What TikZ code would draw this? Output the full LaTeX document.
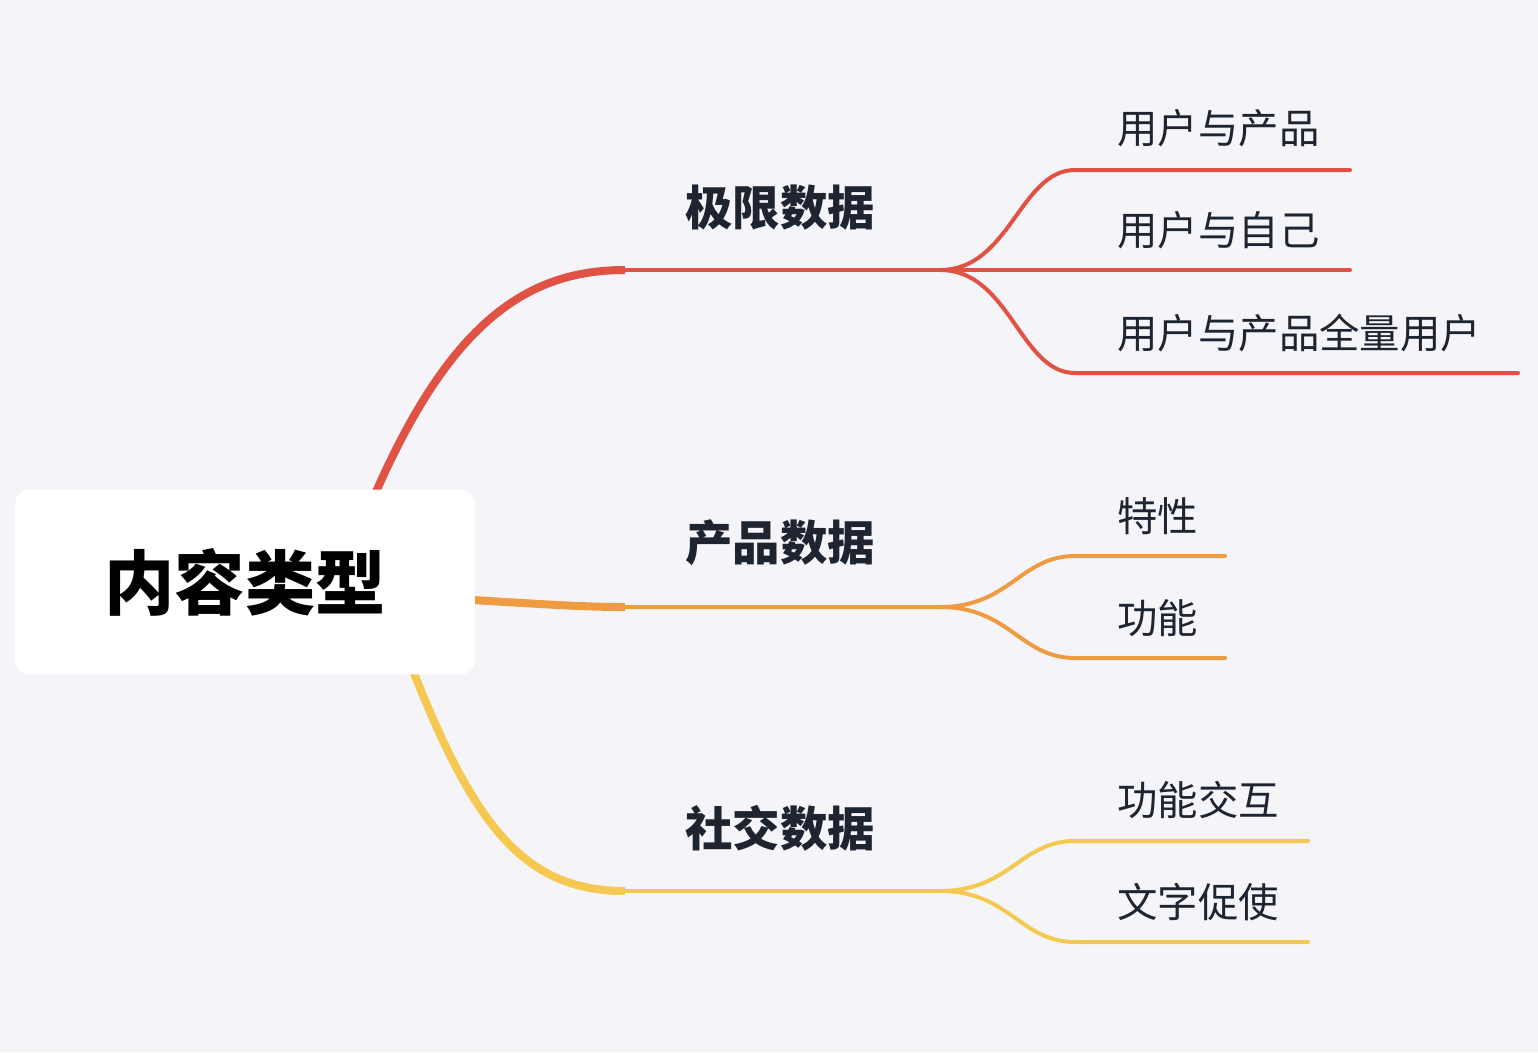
\documentclass[tikz,border=0pt]{standalone}
\usepackage{fontspec}
\newfontfamily\cjk{Noto Sans CJK SC}
\usetikzlibrary{positioning}
\definecolor{bgcol}{HTML}{F5F5F9}
\definecolor{redb}{HTML}{E05344}
\definecolor{orab}{HTML}{EE9B42}
\definecolor{yelb}{HTML}{F5C852}
\definecolor{txt}{HTML}{1E2430}

\begin{document}
\begin{tikzpicture}[x=0.02cm, y=-0.02cm,
    mainlabel/.style={font=\cjk\bfseries\fontsize{27}{30}\selectfont, text=txt},
    sublabel/.style={font=\cjk\fontsize{23}{26}\selectfont, text=txt, anchor=west, inner sep=0pt},
    branch/.style={line width=0.08cm, line cap=round}]
    % Background
    \fill[bgcol] (0,0) rectangle (1538,1052);

    % Junctions
    \coordinate (rs) at (360,530);  \coordinate (rm) at (625,270); \coordinate (rj) at (940,270);
    \coordinate (os) at (440,598);  \coordinate (om) at (625,607); \coordinate (oj) at (940,607);
    \coordinate (ys) at (405,650);  \coordinate (ym) at (625,891); \coordinate (yj) at (940,891);

    % Main branches
    \draw[redb, line width=0.16cm] (rs) .. controls (440,330) and (520,270) .. (rm);
    \draw[redb, branch] (rm) -- (rj);
    \draw[orab, line width=0.16cm] (os) .. controls (540,604) and (580,607) .. (om);
    \draw[orab, branch] (om) -- (oj);
    \draw[yelb, line width=0.16cm] (ys) .. controls (470,820) and (520,891) .. (ym);
    \draw[yelb, branch] (ym) -- (yj);

    % Sub branches
    \foreach \c/\j/\y/\e in {redb/rj/170/1350, redb/rj/270/1350, redb/rj/373/1518,
                             orab/oj/556/1225, orab/oj/658/1225,
                             yelb/yj/841/1308, yelb/yj/942/1308} {
        \coordinate (k) at (1075,\y);
        \coordinate (e) at (\e,\y);
        \draw[\c, branch] (\j) .. controls +(70,0) and (1020,\y) .. (k) -- (e);
    }

    % Root
    \node[fill=white, rounded corners=0.3cm, minimum width=9.2cm, minimum height=3.7cm,
          font=\cjk\bfseries\fontsize{40}{44}\selectfont, text=black] (root) at (245,582) {内容类型};

    % Labels
    \node[mainlabel] (limit) at (780,208) {极限数据};
    \node[mainlabel] (prod) at (780,543) {产品数据};
    \node[mainlabel] (social) at (780,828) {社交数据};

    \node[sublabel] (l1) at (1117,128) {用户与产品};
    \node[sublabel] (l2) at (1117,230) {用户与自己};
    \node[sublabel] (l3) at (1117,333) {用户与产品全量用户};
    \node[sublabel] (p1) at (1117,516) {特性};
    \node[sublabel] (p2) at (1117,618) {功能};
    \node[sublabel] (s1) at (1117,800) {功能交互};
    \node[sublabel] (s2) at (1117,902) {文字促使};
\end{tikzpicture}
\end{document}
